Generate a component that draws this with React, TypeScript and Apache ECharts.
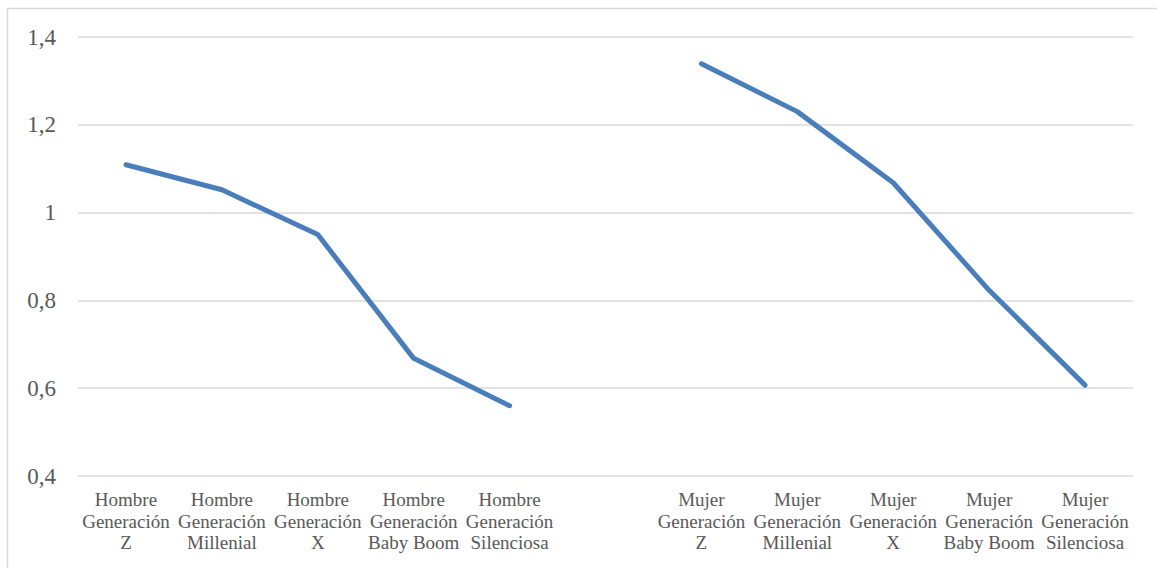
import React, { useEffect, useRef } from "react";
import * as echarts from "echarts";

const categories = [
  "Hombre\nGeneración\nZ",
  "Hombre\nGeneración\nMillenial",
  "Hombre\nGeneración\nX",
  "Hombre\nGeneración\nBaby Boom",
  "Hombre\nGeneración\nSilenciosa",
  "",
  "Mujer\nGeneración\nZ",
  "Mujer\nGeneración\nMillenial",
  "Mujer\nGeneración\nX",
  "Mujer\nGeneración\nBaby Boom",
  "Mujer\nGeneración\nSilenciosa",
];

const values: (number | null)[] = [
  1.109, 1.052, 0.95, 0.668, 0.56, null, 1.339, 1.23, 1.068, 0.823, 0.607,
];

const yMin = 0.4;
const yMax = 1.4;
const yInterval = 0.2;

export default function App() {
  const ref = useRef<HTMLDivElement>(null);
  useEffect(() => {
    document.body.style.margin = "0";
    const chart = echarts.init(ref.current!, null, { renderer: "svg" });
    const font = "'Liberation Serif', 'DejaVu Serif', serif";
    chart.setOption({
      animation: false,
      backgroundColor: "#ffffff",
      graphic: [
        {
          type: "rect",
          shape: { x: 7.5, y: 8.5, width: 1160, height: 570 },
          style: { fill: "none", stroke: "#d9d9d9", lineWidth: 1.5 },
          silent: true,
        },
      ],
      grid: { left: 78, right: 24, top: 37, bottom: 92 },
      xAxis: {
        type: "category",
        data: categories,
        boundaryGap: true,
        axisLine: { show: false },
        axisTick: { show: false },
        axisLabel: {
          interval: 0,
          color: "#595959",
          fontFamily: font,
          fontSize: 19,
          lineHeight: 21.5,
          margin: 13,
        },
      },
      yAxis: {
        type: "value",
        min: yMin,
        max: yMax,
        interval: yInterval,
        axisLine: { show: false },
        axisTick: { show: false },
        splitLine: { lineStyle: { color: "#d9d9d9", width: 1.5 } },
        axisLabel: {
          color: "#595959",
          fontFamily: font,
          fontSize: 23,
          margin: 22,
          formatter: (v: number) => {
            const r = Math.round(v * 10) / 10;
            return String(r).replace(".", ",");
          },
        },
      },
      series: [
        {
          type: "line",
          data: values,
          connectNulls: false,
          showSymbol: false,
          symbol: "none",
          lineStyle: { color: "#4a7ebb", width: 5, cap: "round", join: "round" },
        },
      ],
    });
    return () => chart.dispose();
  }, []);
  return <div ref={ref} style={{ width: 1157, height: 568 }} />;
}
